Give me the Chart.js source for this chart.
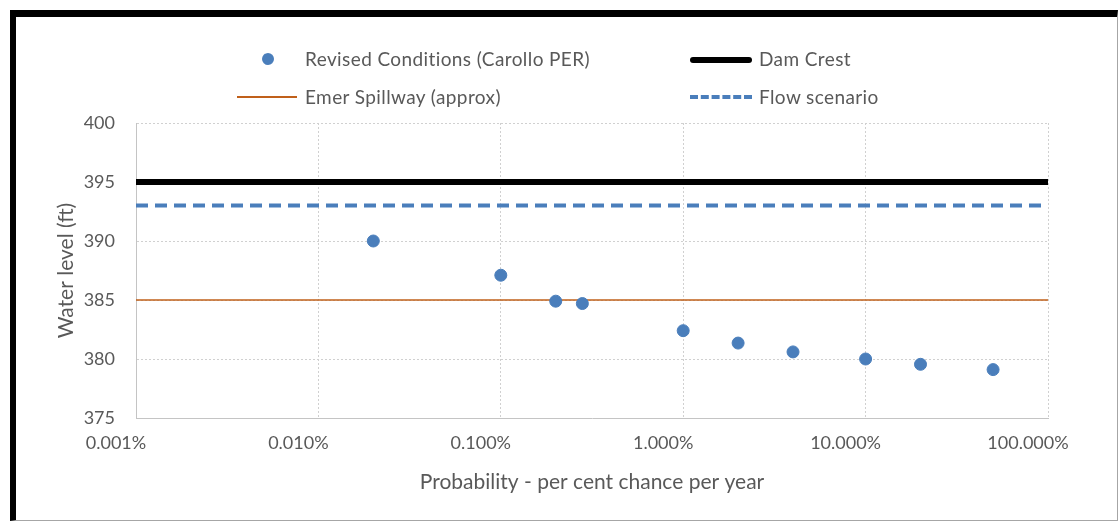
<!DOCTYPE html>
<html>
<head>
<meta charset="utf-8">
<script src="https://cdn.jsdelivr.net/npm/chart.js@4"></script>
<style>
  html,body{margin:0;padding:0;background:#fff;}
  body{width:1119px;height:521px;position:relative;overflow:hidden;font-family:Lato,"Open Sans",sans-serif;color:#595959;}
  #chart{position:absolute;left:0;top:0;}
  .frame{position:absolute;left:10px;top:10px;width:1108px;height:511px;box-sizing:border-box;
    border-left:6px solid #000;border-top:7px solid #000;border-right:1px solid #a6a6a6;border-bottom:1px solid #a6a6a6;pointer-events:none;}
  .lg{position:absolute;font-size:19px;line-height:20px;letter-spacing:0.4px;white-space:nowrap;}
  .dot{position:absolute;width:12px;height:12px;border-radius:50%;background:#4a7ebb;}
  .ln{position:absolute;height:0;}
</style>
</head>
<body>
<canvas id="chart" width="1119" height="521"></canvas>
<div class="frame"></div>
<!-- legend, two columns like the original -->
<div class="dot" style="left:262px;top:53px;"></div>
<div class="lg" style="left:305px;top:49px;">Revised Conditions (Carollo PER)</div>
<div class="ln" style="left:690px;top:57px;width:62px;border-top:6px solid #000;border-radius:3px;"></div>
<div class="lg" style="left:759px;top:49px;">Dam Crest</div>
<div class="ln" style="left:237px;top:96px;width:60px;border-top:2px solid #c0601a;"></div>
<div class="lg" style="left:305px;top:87px;">Emer Spillway (approx)</div>
<div class="ln" style="left:690px;top:95px;width:62px;border-top:4px dashed #4a7ebb;"></div>
<div class="lg" style="left:759px;top:87px;">Flow scenario</div>
<script>
// probability (% chance per year) vs water level (ft)
const probPct = [0.02, 0.1, 0.2, 0.28, 1, 2, 4, 10, 20, 50];
const waterLevel = [390.0, 387.1, 384.9, 384.7, 382.4, 381.35, 380.6, 380.0, 379.55, 379.1];

const damCrest = 395;
const emerSpillway = 385;
const flowScenario = 393;

const xTicks = [0.001, 0.01, 0.1, 1, 10, 100];
const xTickLabels = ['0.001%', '0.010%', '0.100%', '1.000%', '10.000%', '100.000%'];
const X_MIN = 0.001, X_MAX = 100;

const txt = '#595959';
const font = {family: 'Lato, "Open Sans", sans-serif', size: 18};
const titleFont = {family: 'Lato, "Open Sans", sans-serif', size: 21};

function hline(y){ return [{x:X_MIN,y:y},{x:X_MAX,y:y}]; }

const ctx = document.getElementById('chart').getContext('2d');
new Chart(ctx, {
  type: 'scatter',
  data: {
    datasets: [
      {label:'Revised Conditions (Carollo PER)', data: probPct.map((p,i)=>({x:p,y:waterLevel[i]})),
       backgroundColor:'#4a7ebb', borderColor:'#4a7ebb', pointRadius:6, pointHoverRadius:6, order:0},
      {label:'Dam Crest', type:'line', data: hline(damCrest), borderColor:'#000', borderWidth:6,
       pointRadius:0, fill:false, order:1},
      {label:'Emer Spillway (approx)', type:'line', data: hline(emerSpillway), borderColor:'#c0601a', borderWidth:1.5,
       pointRadius:0, fill:false, order:1},
      {label:'Flow scenario', type:'line', data: hline(flowScenario), borderColor:'#4a7ebb', borderWidth:4,
       borderDash:[12,7], pointRadius:0, fill:false, order:1}
    ]
  },
  options: {
    responsive: false,
    animation: false,
    layout: {padding: {top:123, right:71, left:0, bottom:0}},
    plugins: {legend:{display:false}, tooltip:{enabled:false}},
    scales: {
      x: {
        type: 'logarithmic', min: X_MIN, max: X_MAX,
        afterBuildTicks: s => { s.ticks = xTicks.map(v=>({value:v})); },
        afterFit: s => { s.height = 103; },
        ticks: {color: txt, font: font, padding: 14, maxRotation: 0, autoSkip: false, labelOffset: -20,
          callback: (v) => { const i = xTicks.indexOf(v); return i >= 0 ? xTickLabels[i] : ''; }},
        grid: {color:'#d0d0d0', lineWidth:1, drawTicks:false},
        border: {display:true, color:'#c4c4c4', dash:[2,2]},
        title: {display:true, text:'Probability - per cent chance per year', color: txt, font: titleFont, padding:{bottom:26}}
      },
      y: {
        min: 375, max: 400,
        afterFit: s => { s.width = 136; },
        ticks: {stepSize: 5, color: txt, font: font, padding: 21},
        grid: {color:'#d0d0d0', lineWidth:1, drawTicks:false},
        border: {display:true, color:'#c4c4c4', dash:[2,2]},
        title: {display:true, text:'Water level (ft)', color: txt, font: titleFont, padding:{top:54}}
      }
    }
  }
});
</script>
</body>
</html>
